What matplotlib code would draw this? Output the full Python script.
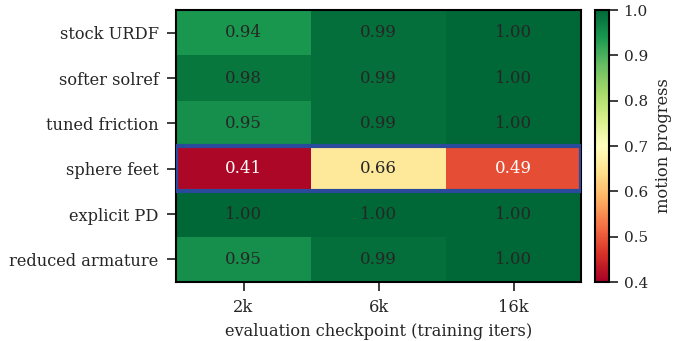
import numpy as np
import matplotlib.pyplot as plt
from matplotlib.patches import Rectangle

plt.rcParams['font.family'] = 'DejaVu Serif'
plt.rcParams['text.color'] = '#262626'
plt.rcParams['axes.labelcolor'] = '#262626'
plt.rcParams['xtick.color'] = '#262626'
plt.rcParams['ytick.color'] = '#262626'

variants = ['stock URDF', 'softer solref', 'tuned friction', 'sphere feet',
            'explicit PD', 'reduced armature']
checkpoints = ['2k', '6k', '16k']
progress = np.array([
    [0.94, 0.99, 1.00],
    [0.98, 0.99, 1.00],
    [0.95, 0.99, 1.00],
    [0.41, 0.66, 0.49],
    [1.00, 1.00, 1.00],
    [0.95, 0.99, 1.00],
])
highlight_row = 3

fig = plt.figure(figsize=(6.73, 3.41), dpi=100)
ax = fig.add_axes([176/673, 1 - 282/341, 405/673, 272/341])
cax = fig.add_axes([595/673, 1 - 282/341, 14/673, 272/341])

im = ax.imshow(progress, cmap='RdYlGn', vmin=0.4, vmax=1.0, aspect='auto')

for i in range(progress.shape[0]):
    for j in range(progress.shape[1]):
        v = progress[i, j]
        ax.text(j, i, f'{v:.2f}', ha='center', va='center', fontsize=12,
                color='white' if v < 0.55 else '#262626')

# box around the failing variant
ax.add_patch(Rectangle((-0.5, highlight_row - 0.5), progress.shape[1], 1,
                       fill=False, edgecolor='#2a4b9b', lw=3, zorder=5))

ax.set_xticks(range(len(checkpoints)))
ax.set_xticklabels(checkpoints, fontsize=11.7)
ax.set_yticks(range(len(variants)))
ax.set_yticklabels(variants, fontsize=11.7)
ax.tick_params(length=6.5, width=1.25, pad=6)
ax.set_xlabel('evaluation checkpoint (training iters)', fontsize=11.7, labelpad=5)
for s in ax.spines.values():
    s.set_linewidth(1.5)

cb = fig.colorbar(im, cax=cax)
cb.set_label('motion progress', fontsize=11.7, labelpad=5)
cb.ax.tick_params(labelsize=11, length=6.5, width=1.25, pad=4)
cb.outline.set_linewidth(1.5)

fig.savefig('out.png', dpi=100)
